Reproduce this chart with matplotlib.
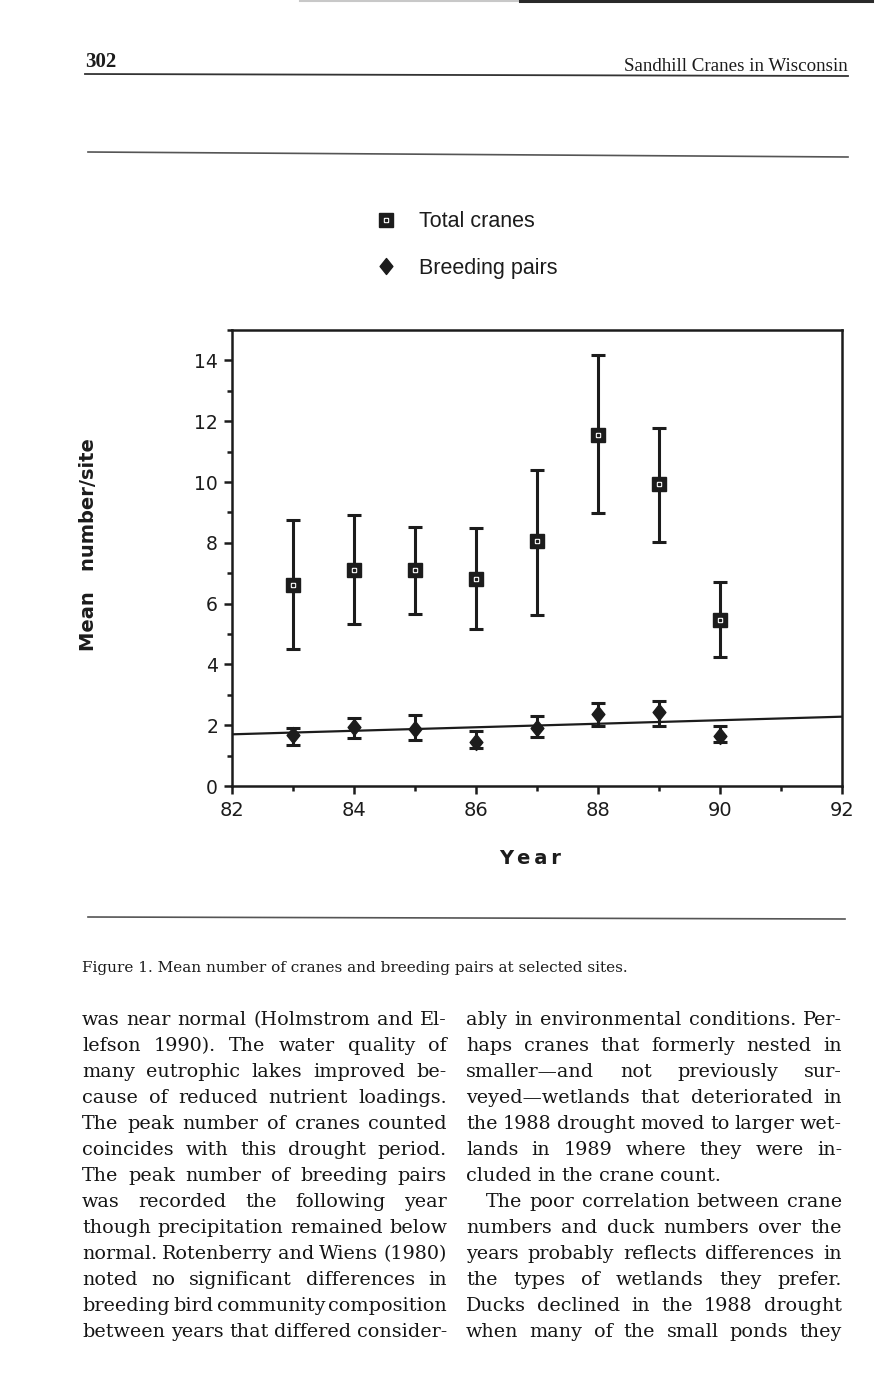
import numpy as np
import matplotlib.pyplot as plt
from matplotlib.lines import Line2D
from matplotlib.path import Path
from matplotlib.ticker import MultipleLocator

W, H = 888, 1380
SERIF = 'Liberation Serif'
BODY = 'DejaVu Serif'
SANS = 'Liberation Sans'
BOLD = 'DejaVu Sans'
INK = '#1c1c1c'

# data
years = [83, 84, 85, 86, 87, 88, 89, 90]
total_mean = [6.62, 7.11, 7.11, 6.81, 8.05, 11.54, 9.93, 5.47]
total_hi = [8.75, 8.90, 8.51, 8.49, 10.38, 14.19, 11.76, 6.71]
total_lo = [4.51, 5.33, 5.66, 5.16, 5.63, 8.98, 8.04, 4.25]
pairs_mean = [1.68, 1.95, 1.87, 1.46, 1.92, 2.36, 2.43, 1.66]
pairs_hi = [1.90, 2.25, 2.33, 1.81, 2.31, 2.72, 2.78, 1.98]
pairs_lo = [1.35, 1.59, 1.50, 1.25, 1.62, 1.98, 1.98, 1.46]
trend_x = [82, 92]
trend_y = [1.70, 2.28]
xticks = [82, 84, 86, 88, 90, 92]
yticks = [0, 2, 4, 6, 8, 10, 12, 14]

caption = "Figure 1. Mean number of cranes and breeding pairs at selected sites."
left_col = [
    "was near normal (Holmstrom and El-",
    "lefson 1990). The water quality of",
    "many eutrophic lakes improved be-",
    "cause of reduced nutrient loadings.",
    "The peak number of cranes counted",
    "coincides with this drought period.",
    "The peak number of breeding pairs",
    "was recorded the following year",
    "though precipitation remained below",
    "normal. Rotenberry and Wiens (1980)",
    "noted no significant differences in",
    "breeding bird community composition",
    "between years that differed consider-",
]
right_col = [
    "ably in environmental conditions. Per-",
    "haps cranes that formerly nested in",
    "smaller\u2014and not previously sur-",
    "veyed\u2014wetlands that deteriorated in",
    "the 1988 drought moved to larger wet-",
    "lands in 1989 where they were in-",
    "cluded in the crane count.",
    "The poor correlation between crane",
    "numbers and duck numbers over the",
    "years probably reflects differences in",
    "the types of wetlands they prefer.",
    "Ducks declined in the 1988 drought",
    "when many of the small ponds they",
]


def fx(x):
    return x / W


def fy(y):
    return 1 - y / H


def rule(x0, x1, y0, y1, lw=1.2, color='#333333'):
    fig.add_artist(Line2D([fx(x0), fx(x1)], [fy(y0), fy(y1)],
                          transform=fig.transFigure, lw=lw, color=color))


fig = plt.figure(figsize=(W / 100, H / 100), dpi=100)
fig.patch.set_facecolor('white')

# page furniture
rule(300, 520, 1, 1, lw=1.5, color='#c8c8c8')
rule(520, 872, 1.2, 1.2, lw=2.2, color='#2a2a2a')
fig.text(fx(85), fy(67), "302", family=SERIF, weight='bold', fontsize=15,
         va='baseline', ha='left', color=INK)
fig.text(fx(848), fy(71), "Sandhill Cranes in Wisconsin", family=SERIF,
         fontsize=13.7, va='baseline', ha='right', color=INK)
rule(85, 848, 74, 76, lw=1.3)
rule(88, 848, 152, 157, lw=1.2, color='#555555')
rule(88, 845, 917, 919, lw=1.2, color='#555555')

# chart
ax = fig.add_axes([fx(232), fy(786), (842 - 232) / W, (786 - 330) / H])
lw_ax = 1.8
for s in ax.spines.values():
    s.set_linewidth(lw_ax)
    s.set_color(INK)

ax.plot(trend_x, trend_y, color=INK, lw=1.6, zorder=2)

t_mean = np.array(total_mean)
ax.errorbar(years, t_mean,
            yerr=[t_mean - np.array(total_lo), np.array(total_hi) - t_mean],
            fmt='none', ecolor=INK, elinewidth=2.2, capsize=5,
            capthick=2.2, zorder=3)
ax.plot(years, total_mean, 's', ms=9.5, color=INK, zorder=4)
ax.plot(years, total_mean, 's', ms=3.4, color='white', zorder=5)
ax.plot(years, total_mean, 's', ms=1.4, color=INK, zorder=6)

diamond = Path([(0, 1), (0.8, 0), (0, -1), (-0.8, 0), (0, 1)],
               [Path.MOVETO, Path.LINETO, Path.LINETO, Path.LINETO, Path.CLOSEPOLY])
p_mean = np.array(pairs_mean)
ax.errorbar(years, p_mean,
            yerr=[p_mean - np.array(pairs_lo), np.array(pairs_hi) - p_mean],
            fmt='none', ecolor=INK, elinewidth=2.2, capsize=5,
            capthick=2.2, zorder=3)
ax.plot(years, pairs_mean, marker=diamond, ls='none', ms=11.5,
        color=INK, zorder=4)

ax.set_xlim(82, 92)
ax.set_ylim(0, 15)
ax.set_xticks(xticks)
ax.set_yticks(yticks)
ax.xaxis.set_minor_locator(MultipleLocator(1))
ax.yaxis.set_minor_locator(MultipleLocator(1))
ax.tick_params(which='major', direction='out', length=6, width=lw_ax,
               color=INK, labelcolor=INK)
ax.tick_params(which='minor', direction='out', length=3.5, width=lw_ax,
               color=INK)
ax.tick_params(axis='x', pad=5)
ax.tick_params(axis='y', pad=4)
for lab in ax.get_xticklabels():
    lab.set_family(BOLD)
    lab.set_fontsize(14)
for lab in ax.get_yticklabels():
    lab.set_family(BOLD)
    lab.set_fontsize(13.5)

fig.text(fx(530), fy(858), "Y\u2009e\u2009a\u2009r", family=BOLD,
         weight='bold', fontsize=14, ha='center', va='center', color=INK)
fig.text(fx(88), fy(545), "Mean   number/site", family=BOLD, weight='bold',
         fontsize=14, rotation=90, ha='center', va='center', color=INK)

# legend
h_total = (Line2D([], [], marker='s', ls='none', ms=9.5, color=INK),
           Line2D([], [], marker='s', ls='none', ms=3.4, color='white'),
           Line2D([], [], marker='s', ls='none', ms=1.4, color=INK))
h_pairs = Line2D([], [], marker=diamond, ls='none', ms=11.5, color=INK)
leg = ax.legend([h_total, h_pairs], ["Total cranes", "Breeding pairs"],
                loc='center left', bbox_to_anchor=(fx(375), fy(245)),
                bbox_transform=fig.transFigure, frameon=False,
                prop={'family': SANS, 'size': 15.5}, handlelength=1,
                handletextpad=1.05, labelspacing=1.17, borderpad=0,
                borderaxespad=0)
for t in leg.get_texts():
    t.set_color(INK)

# caption and body text
fig.text(fx(82), fy(972), caption, family=BODY, fontsize=11,
         va='baseline', ha='left', color=INK)

body_size = 13.8
line_objs = []


def add_line(text, x0, x1, ybase, justify=True):
    words = text.split(' ')
    objs = [fig.text(0, fy(ybase), w, family=BODY, fontsize=body_size,
                     va='baseline', ha='left', color='#151515') for w in words]
    line_objs.append((objs, x0, x1, justify))


base0 = 1025
step = 26
for i, line in enumerate(left_col):
    add_line(line, 82, 447, base0 + i * step)
for i, line in enumerate(right_col):
    x0 = 486 if i == 7 else 466
    add_line(line, x0, 842, base0 + i * step, justify=(i != 6))

renderer = fig.canvas.get_renderer()
space = 0.3 * body_size * 100 / 72
for objs, x0, x1, justify in line_objs:
    widths = [o.get_window_extent(renderer).width for o in objs]
    n = len(objs)
    natural = sum(widths) + 3 * (n - 1)
    if natural > x1 - x0:
        shrink = (x1 - x0) / natural
        for o in objs:
            o.set_fontsize(body_size * shrink)
        widths = [o.get_window_extent(renderer).width for o in objs]
    gap = space
    if justify and n > 1:
        gap = (x1 - x0 - sum(widths)) / (n - 1)
    x = x0
    for o, w in zip(objs, widths):
        o.set_x(fx(x))
        x += w + gap

fig.savefig('out.png', dpi=100)
